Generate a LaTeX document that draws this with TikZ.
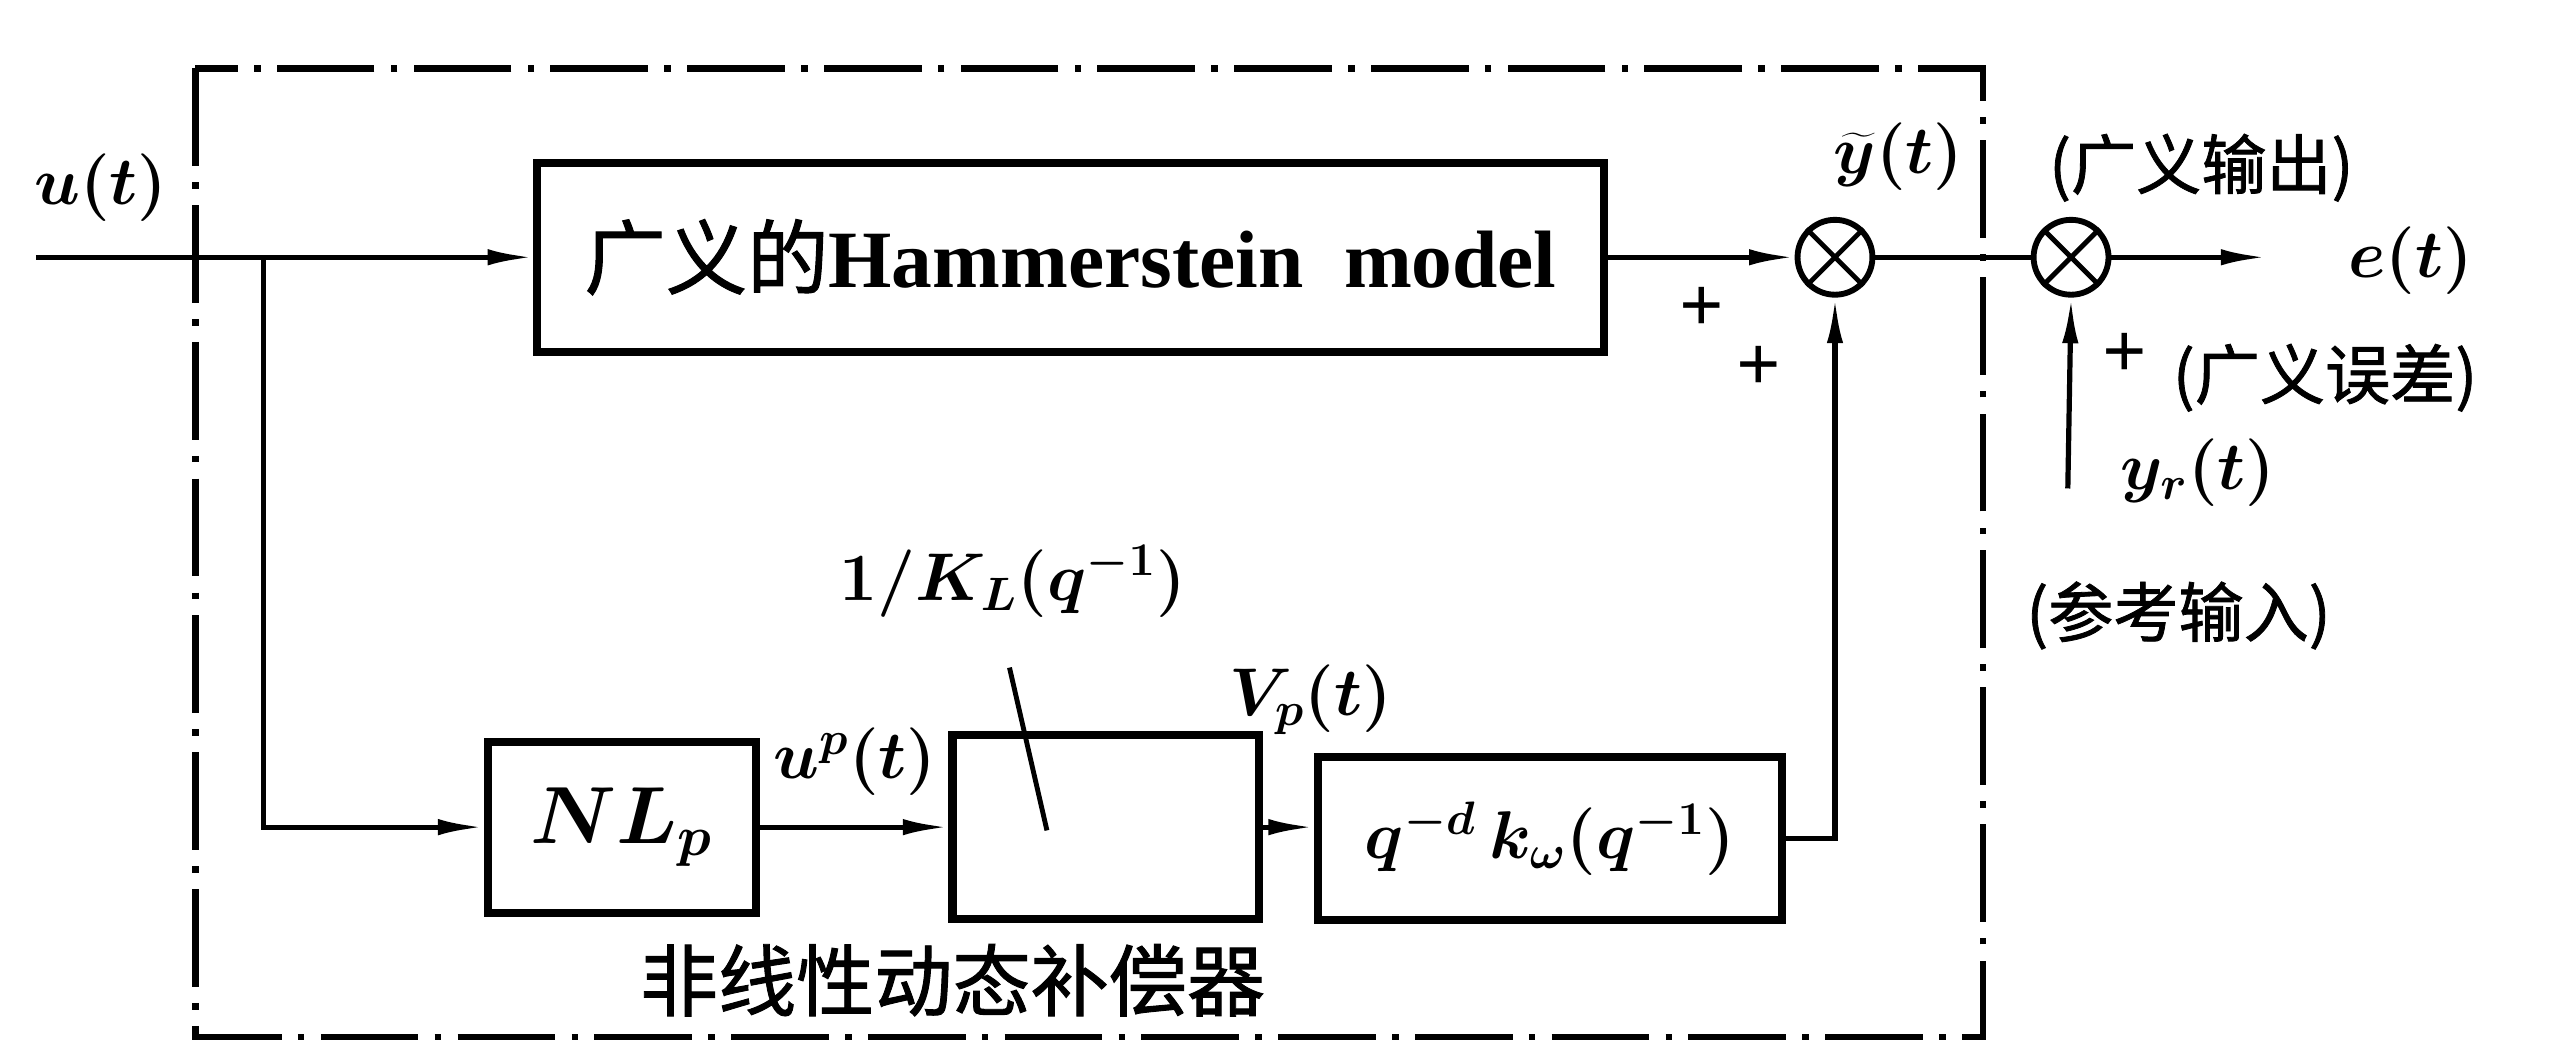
\documentclass[tikz,border=0pt]{standalone}
\usepackage{fontspec}
\setmainfont{Liberation Serif}
\newfontfamily\cjk[FakeBold=1.2]{Noto Sans CJK SC}
\usetikzlibrary{arrows.meta,calc}
\tikzset{
  frame/.style={line width=2pt,dash pattern=on 30pt off 5pt on 2pt off 5pt},
  blk/.style={draw,line width=2.5pt,inner sep=0pt},
  sig/.style={line width=1.6pt},
  arr/.style={sig,-{Latex[length=14pt,width=5pt]}},
  sumc/.style={draw,circle,line width=1.8pt,minimum size=23pt,inner sep=0pt},
  mlab/.style={font=\fontsize{22}{24}\selectfont\boldmath,inner sep=1pt},
  cj/.style={font=\fontsize{20}{22}\selectfont\cjk,inner sep=1pt},
  plus/.style={font=\fontsize{24}{24}\selectfont\bfseries,inner sep=0pt},
}
\begin{document}
\begin{tikzpicture}[x=0.5pt,y=-0.5pt]
\useasboundingbox (0,0) rectangle (1568,650);
\draw[frame] (120,42) rectangle (1218,637);
% blocks
\node[blk,minimum width=327.5pt,minimum height=58pt,font=\fontsize{25}{27}\selectfont] (ham) at (657.5,158) {{\cjk 广义的}\textbf{Hammerstein\ \ model}};
\node[blk,minimum width=82.5pt,minimum height=52.5pt,font=\fontsize{24}{26}\selectfont\boldmath] (nl) at (382,508) {$NL_p$};
\node[blk,minimum width=94pt,minimum height=56.5pt] (kl) at (679,508) {};
\node[blk,minimum width=142.5pt,minimum height=50pt,font=\fontsize{20}{22}\selectfont\boldmath] (qk) at (952,515) {$q^{-d}\,k_\omega(q^{-1})$};
\node[sumc] (s1) at (1127,158) {};
\node[sumc] (s2) at (1272,158) {};
\draw[line width=1.5pt] (s1.north east) -- (s1.south west) (s1.north west) -- (s1.south east);
\draw[line width=1.5pt] (s2.north east) -- (s2.south west) (s2.north west) -- (s2.south east);
% coordinates
\coordinate (in) at (22,158);
\coordinate (br) at (162,158);
\coordinate (eo) at (1392,158);
\coordinate (yr) at (1270,300);
\coordinate (kp0) at (620,410);
\coordinate (kp) at (643,510);
% connectors
\draw[arr] (in) -- (ham.west);
\draw[arr] (br) |- (nl.west);
\draw[arr] (nl.east) -- (kl.west);
\draw[arr] (kl.east) -- (kl.east -| qk.west);
\draw[arr] (qk.east) -| (s1.south);
\draw[arr] (ham.east) -- (s1.west);
\draw[sig] (s1.east) -- (s2.west);
\draw[arr] (s2.east) -- (eo);
\draw[arr] (yr) -- (s2.south);
\draw[line width=1.5pt] (kp0) -- (kp);
% labels
\node[mlab] (ut) at (62,115) {$u(t)$};
\node[mlab] (yt) at (1166,96) {$\widetilde{y}(t)$};
\node[cj] (go) at (1352,103) {(广义输出)};
\node[mlab,anchor=west] (et) at (1440,160) {$e(t)$};
\node[plus] (p1) at (1045,190) {+};
\node[plus] (p2) at (1080,226) {+};
\node[plus] (p3) at (1305,218) {+};
\node[cj] (ge) at (1428,232) {(广义误差)};
\node[mlab] (yrl) at (1350,290) {$y_r(t)$};
\node[cj] (ck) at (1338,378) {(参考输入)};
\node[mlab] (kll) at (622,357) {$1/K_L(q^{-1})$};
\node[mlab] (upl) at (525,468) {$u^p(t)$};
\node[mlab] (vpl) at (805,430) {$V_p(t)$};
\node[cj,font=\fontsize{24}{26}\selectfont\cjk] (nlc) at (585,602) {非线性动态补偿器};
\end{tikzpicture}
\end{document}
